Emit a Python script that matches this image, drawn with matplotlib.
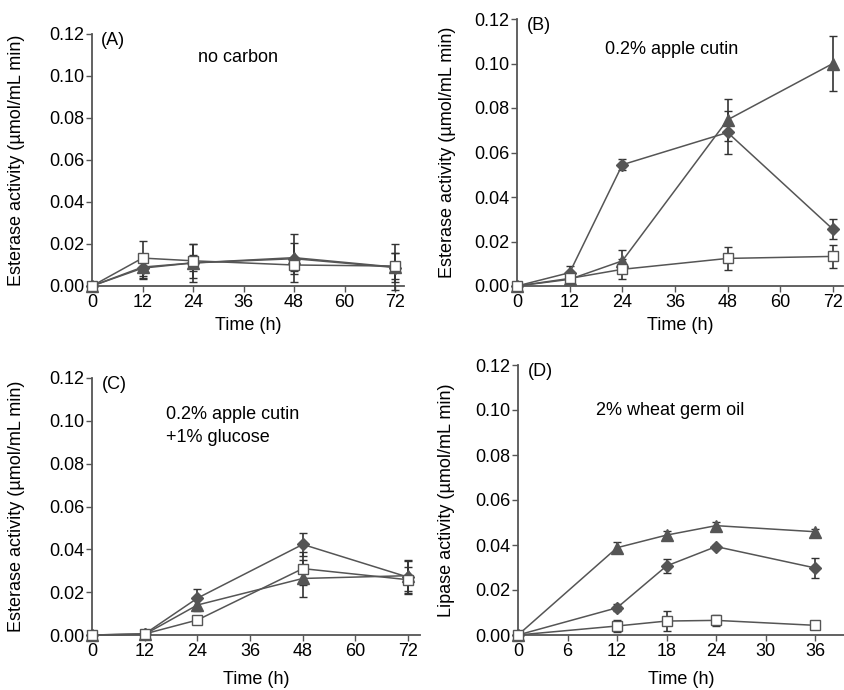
import matplotlib
matplotlib.use("Agg")
import matplotlib.pyplot as plt

plt.rcParams["font.family"] = ["Liberation Sans", "DejaVu Sans"]
plt.rcParams["font.size"] = 13

# --- data ---------------------------------------------------------------

T_LONG = [0, 12, 24, 48, 72]
T_SHORT = [0, 12, 18, 24, 36]

# (A) no carbon
A_SQ = [0, 0.0133, 0.0120, 0.0100, 0.0095]
A_SQ_ERR = [0, 0.0083, 0.0080, 0.0030, 0.0060]
A_TRI = [0, 0.0090, 0.0110, 0.0135, 0.0090]
A_TRI_ERR = [0, 0.0054, 0.0090, 0.0115, 0.0110]
A_DIA = [0, 0.0085, 0.0110, 0.0130, 0.0088]
A_DIA_ERR = [0, 0.0050, 0.0040, 0.0073, 0.0068]

# (B) 0.2% apple cutin
B_SQ = [0, 0.0034, 0.0075, 0.0124, 0.0133]
B_SQ_ERR = [0, 0.0010, 0.0045, 0.0052, 0.0050]
B_TRI = [0, 0.0030, 0.0113, 0.0747, 0.1000]
B_TRI_ERR = [0, 0.0020, 0.0050, 0.0095, 0.0125]
B_DIA = [0, 0.0060, 0.0545, 0.0690, 0.0255]
B_DIA_ERR = [0, 0.0030, 0.0024, 0.0095, 0.0045]

# (C) 0.2% apple cutin + 1% glucose
C_SQ = [0, 0.0005, 0.0070, 0.0310, 0.0258]
C_SQ_ERR = [0, 0, 0.0010, 0.0077, 0.0060]
C_TRI = [0, 0.0003, 0.0140, 0.0264, 0.0277]
C_TRI_ERR = [0, 0, 0.0030, 0.0085, 0.0070]
C_DIA = [0, 0.0005, 0.0172, 0.0423, 0.0270]
C_DIA_ERR = [0, 0, 0.0044, 0.0054, 0.0080]

# (D) 2% wheat germ oil
D_SQ = [0, 0.0040, 0.0062, 0.0065, 0.0043]
D_SQ_ERR = [0, 0.0025, 0.0043, 0.0025, 0.0010]
D_TRI = [0, 0.0388, 0.0444, 0.0486, 0.0459]
D_TRI_ERR = [0, 0.0025, 0.0017, 0.0015, 0.0010]
D_DIA = [0, 0.0121, 0.0307, 0.0393, 0.0298]
D_DIA_ERR = [0, 0.0015, 0.0030, 0.0008, 0.0046]

GRAY = "#555555"
ERR = "#333333"
W, H = 845, 690


def px_axes(fig, left, right, top, bottom):
    """Axes placed by pixel box (top-left origin)."""
    ax = fig.add_axes([left / W, (H - bottom) / H, (right - left) / W, (bottom - top) / H])
    ax._px = (left, right, top, bottom)
    return ax


def draw_panel(ax, t, series, xmax, xticks, tag, note, note_xy, note_ha, ylabel,
               ylab_x, xlab_y):
    for y, e, marker, ms, face in series:
        ax.errorbar(t, y, yerr=e, color=GRAY, ecolor=ERR, elinewidth=1.2, capsize=3,
                    capthick=1.2, lw=1.1, marker=marker, ms=ms, mfc=face, mec=GRAY,
                    mew=1.0, clip_on=False, zorder=3)
    ax.set_xlim(0, xmax)
    ax.set_ylim(0, 0.12)
    ax.set_xticks(xticks)
    ax.set_yticks([0, 0.02, 0.04, 0.06, 0.08, 0.10, 0.12])
    ax.set_yticklabels([f"{v:.2f}" for v in ax.get_yticks()])
    for s in ["top", "right"]:
        ax.spines[s].set_visible(False)
    for s in ["left", "bottom"]:
        ax.spines[s].set_color(GRAY)
        ax.spines[s].set_linewidth(1.3)
    ax.tick_params(direction="out", length=4, width=1, color=GRAY, labelsize=13, pad=1.5)
    ax.set_xlabel("Time (h)", fontsize=13)
    ax.set_ylabel(ylabel, fontsize=13)
    # label positions measured in pixels
    left, right, top, bottom = ax._px
    ax.yaxis.set_label_coords((ylab_x - left) / (right - left), 0.5)
    ax.xaxis.set_label_coords(0.5, (bottom - xlab_y) / (bottom - top))
    ax.yaxis.label.set_va("center")
    ax.xaxis.label.set_va("center")
    ax.text(0.03, 0.975, tag, transform=ax.transAxes, ha="left", va="center", fontsize=13)
    ax.text(note_xy[0], note_xy[1], note, transform=ax.transAxes, ha=note_ha, va="center",
            fontsize=13, linespacing=1.45)


def main() -> None:
    fig = plt.figure(figsize=(W / 100, H / 100), dpi=100)
    est = "Esterase activity (\u00b5mol/mL min)"
    lip = "Lipase activity (\u00b5mol/mL min)"

    axA = px_axes(fig, 92, 404, 34, 286)
    draw_panel(axA, T_LONG,
               [(A_DIA, A_DIA_ERR, "D", 6, GRAY), (A_TRI, A_TRI_ERR, "^", 8, GRAY),
                (A_SQ, A_SQ_ERR, "s", 7.5, "white")],
               74.1, [0, 12, 24, 36, 48, 60, 72], "(A)", "no carbon", (0.468, 0.905), "center",
               est, 17, 325)

    axB = px_axes(fig, 517, 843, 19, 286)
    draw_panel(axB, T_LONG,
               [(B_DIA, B_DIA_ERR, "D", 6, GRAY), (B_TRI, B_TRI_ERR, "^", 8, GRAY),
                (B_SQ, B_SQ_ERR, "s", 7.5, "white")],
               74.3, [0, 12, 24, 36, 48, 60, 72], "(B)", "0.2% apple cutin", (0.475, 0.884),
               "center", est, 447, 325)

    axC = px_axes(fig, 92, 420, 378, 635)
    draw_panel(axC, T_LONG,
               [(C_DIA, C_DIA_ERR, "D", 6, GRAY), (C_TRI, C_TRI_ERR, "^", 8, GRAY),
                (C_SQ, C_SQ_ERR, "s", 7.5, "white")],
               74.7, [0, 12, 24, 36, 48, 60, 72], "(C)", "0.2% apple cutin\n+1% glucose",
               (0.226, 0.812), "left", est, 17, 680)

    axD = px_axes(fig, 518, 844, 365, 635)
    draw_panel(axD, T_SHORT,
               [(D_DIA, D_DIA_ERR, "D", 6, GRAY), (D_TRI, D_TRI_ERR, "^", 8, GRAY),
                (D_SQ, D_SQ_ERR, "s", 7.5, "white")],
               39.5, [0, 6, 12, 18, 24, 30, 36], "(D)", "2% wheat germ oil", (0.466, 0.833),
               "center", lip, 447, 680)

    fig.savefig("out.png", dpi=100)
    plt.close(fig)


if __name__ == "__main__":
    main()
